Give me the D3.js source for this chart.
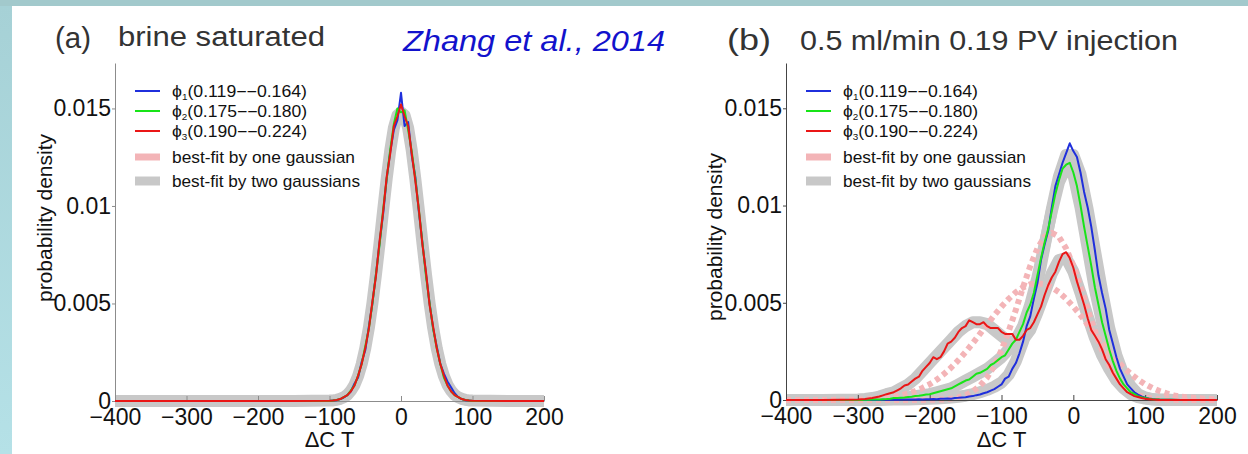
<!DOCTYPE html>
<html>
<head>
<meta charset="utf-8">
<script src="https://cdn.jsdelivr.net/npm/d3@7"></script>
<style>
body{margin:0;background:#fff;}
svg{display:block;font-family:'Liberation Sans',Arial,sans-serif;}
</style>
</head>
<body>
<div class="figure"></div>
<script>
// ---- panel (a): brine saturated ----
const dctA = [-400,-300,-200,-150,
  -100,-95,-90,-85,-80,-75,-70,-65,-60,-55,
  -50,-45,-40,-35,-30,-25,-20,-15,-10,-5,
  0,
  5,10,15,20,25,30,35,40,45,50,
  55,60,65,70,75,80,85,90,95,100,
  150,200];
const blueA = [0,0,0,0,
  0,0.00002,0.00004,0.0001,0.00018,0.0003,0.0005,0.0009,0.0012,0.002,
  0.0026,0.0038,0.005,0.0065,0.0081,0.0096,0.0114,0.0128,0.0139,0.0144,
  0.0158,
  0.0141,0.0143,0.0126,0.0115,0.0097,0.0081,0.0065,0.005,0.0037,0.0028,
  0.0019,0.0014,0.001,0.0007,0.0004,0.0002,0.0001,0.00004,0.00002,0,
  0,0];
const greenA = [0,0,0,0,
  0,0.00002,0.00005,0.0001,0.0002,0.0003,0.00055,0.0008,0.0013,0.0019,
  0.0028,0.0037,0.005,0.0065,0.008,0.0098,0.0114,0.0129,0.0142,0.015,
  0.0148,
  0.0149,0.0139,0.0128,0.0114,0.0098,0.0081,0.0064,0.005,0.0037,0.0027,
  0.0019,0.0012,0.0008,0.0005,0.0003,0.0002,0.0001,0.00005,0.00002,0,
  0,0];
const redA = [0,0,0,0,
  0.00001,0.00002,0.00005,0.0001,0.0002,0.0003,0.0005,0.0008,0.0013,0.0019,
  0.0027,0.0037,0.0051,0.0064,0.0082,0.0097,0.0115,0.0127,0.0141,0.0146,
  0.0152,
  0.0146,0.0141,0.0127,0.0113,0.0098,0.008,0.0066,0.0049,0.0038,0.0027,
  0.0019,0.0013,0.0008,0.0005,0.0003,0.0002,0.0001,0.00005,0.00002,0.00001,
  0,0];
const oneGaussA = [0,0,0,0,
  0.00002,0.00003,0.00006,0.00011,0.00019,0.00032,0.00053,0.00083,0.00128,0.00189,
  0.0027,0.00372,0.00498,0.00644,0.00803,0.0097,0.0113,0.01276,0.0139,0.01462,
  0.0147,
  0.01462,0.0139,0.01276,0.0113,0.0097,0.00803,0.00644,0.00498,0.00372,0.0027,
  0.00189,0.00128,0.00083,0.00053,0.00032,0.00019,0.00011,0.00006,0.00003,0.00002,
  0,0];
const twoGaussA = [0,0,0,0,
  0.00002,0.00003,0.00006,0.00011,0.00019,0.00032,0.00053,0.00083,0.00128,0.00189,
  0.0027,0.00374,0.00501,0.00648,0.00809,0.00977,0.0114,0.01286,0.014,0.01465,
  0.0148,
  0.01465,0.014,0.01286,0.0114,0.00977,0.00809,0.00648,0.00501,0.00374,0.0027,
  0.00189,0.00128,0.00083,0.00053,0.00032,0.00019,0.00011,0.00006,0.00003,0.00002,
  0,0];

// ---- panel (b): 0.5 ml/min 0.19 PV injection ----
const dctB = [-400,-350,
  -300,-295,-290,-285,-280,-275,-270,-265,-260,-255,
  -250,-245,-240,-235,-230,-225,-220,-215,-210,-205,
  -200,-195,-190,-185,-180,-175,-170,-165,-160,-155,
  -150,-145,-140,-135,-130,-125,-120,-115,-110,-105,
  -100,-95,-90,-85,-80,-75,-70,-65,-60,-55,
  -50,-45,-40,-35,-30,-25,-20,-15,-10,-5,
  0,5,10,15,20,25,30,35,40,45,
  50,55,60,65,70,75,80,85,90,95,
  100,105,110,115,120,
  150,200];
const blueB = [0,0,
  0,0,0,0,0,0.00001,0,0.00001,0.00001,0.00001,
  0.00002,0.00001,0.00002,0.00002,0.00003,0.00002,0.00003,0.00004,0.00003,0.00004,
  0.00004,0.00005,0.00004,0.00006,0.00006,0.00008,0.00007,0.0001,0.00011,0.00013,
  0.00014,0.00018,0.0002,0.00025,0.00028,0.00035,0.0004,0.00048,0.00056,0.00068,
  0.0008,0.0011,0.0012,0.0016,0.0019,0.0024,0.003,0.0038,0.0043,0.0052,
  0.006,0.0072,0.008,0.0087,0.0099,0.011,0.0116,0.0122,0.0127,0.0132,
  0.0128,0.0125,0.0117,0.0107,0.0099,0.0089,0.0077,0.0064,0.0055,0.0047,
  0.0036,0.0029,0.0022,0.0016,0.0012,0.0008,0.0006,0.0004,0.00028,0.00018,
  0.00012,0.00008,0.00005,0.00003,0.00002,
  0,0];
const greenB = [0,0,
  0,0,0.00001,0.00001,0.00002,0.00002,0.00003,0.00004,0.00005,0.00007,
  0.0001,0.0001,0.00012,0.00013,0.00015,0.00017,0.0002,0.00022,0.00025,0.00028,
  0.0003,0.00035,0.0004,0.00045,0.0005,0.00055,0.0006,0.0007,0.0008,0.0009,
  0.001,0.00105,0.0012,0.00135,0.0014,0.0015,0.0016,0.0018,0.0019,0.00205,
  0.0022,0.0023,0.0026,0.0029,0.0031,0.0035,0.0039,0.0045,0.0049,0.0055,
  0.0064,0.0073,0.0081,0.0088,0.0097,0.0106,0.0113,0.0119,0.0121,0.0122,
  0.0117,0.011,0.01,0.0089,0.0079,0.0069,0.0058,0.0049,0.004,0.0033,
  0.0026,0.002,0.0015,0.0011,0.0008,0.0006,0.0004,0.0003,0.0002,0.00014,
  0.0001,0.00007,0.00004,0.00003,0.00002,
  0,0];
const redB = [0,0,
  0.00003,0.00004,0.00005,0.00008,0.0001,0.00014,0.00018,0.00024,0.0003,0.00035,
  0.0004,0.0005,0.0006,0.00075,0.0008,0.00095,0.0011,0.0012,0.0015,0.0017,
  0.0019,0.0022,0.0021,0.0022,0.0025,0.0029,0.003,0.0032,0.0035,0.0037,
  0.0038,0.0041,0.004,0.0039,0.0039,0.004,0.0038,0.0037,0.0037,0.0037,
  0.0035,0.0034,0.0034,0.0034,0.0031,0.0031,0.0033,0.0036,0.0037,0.004,
  0.0044,0.0048,0.0054,0.0059,0.0063,0.0066,0.0071,0.0075,0.0076,0.0073,
  0.0068,0.0061,0.0055,0.0049,0.0042,0.0036,0.0033,0.003,0.0026,0.0021,
  0.0018,0.0014,0.0011,0.0008,0.0006,0.0004,0.0003,0.0002,0.00015,0.0001,
  0.00006,0.00004,0.00002,0.00001,0,
  0,0];

// fitted curves, panel (b), coarser grid
const dctBfit = [-400,-350,-300,
  -290,-280,-270,-260,-250,-240,-230,-220,-210,-200,
  -190,-180,-170,-160,-150,-140,-130,-120,-110,-100,
  -90,-80,-70,-60,-50,-40,-30,-20,-10,0,
  10,20,30,40,50,60,70,80,90,100,
  110,120,130,140,150,200];
const twoGaussBlueB = [0,0,0,
  0,0,0,0.00001,0.00002,0.00002,0.00003,0.00004,0.00005,0.00006,
  0.00008,0.0001,0.00013,0.00017,0.00022,0.0003,0.0004,0.00052,0.00068,0.0009,
  0.0013,0.002,0.003,0.0044,0.006,0.0079,0.0098,0.0115,0.0126,0.0126,
  0.0116,0.0098,0.0077,0.0056,0.0037,0.0023,0.0013,0.0007,0.0003,0.00013,
  0.00005,0.00002,0.00001,0,0,0];
const twoGaussGreenB = [0,0,0,
  0.00001,0.00002,0.00003,0.00005,0.00008,0.00011,0.00015,0.0002,0.00025,0.0003,
  0.0004,0.0005,0.0006,0.0008,0.001,0.0012,0.0014,0.0016,0.0019,0.0022,
  0.0026,0.0031,0.0038,0.0049,0.0063,0.008,0.0097,0.0112,0.012,0.0116,
  0.0099,0.0078,0.0057,0.004,0.0026,0.0015,0.0008,0.0004,0.0002,0.0001,
  0.00004,0.00002,0.00001,0,0,0];
const twoGaussRedB = [0,0,0.00003,
  0.00005,0.0001,0.00018,0.0003,0.0004,0.0006,0.0008,0.0011,0.0015,0.0019,
  0.0023,0.0027,0.0031,0.0035,0.0038,0.004,0.004,0.0039,0.0036,0.0033,
  0.003,0.0029,0.0031,0.0036,0.0045,0.0055,0.0065,0.0072,0.0073,0.0066,
  0.0055,0.0043,0.0032,0.0023,0.0016,0.001,0.0006,0.0003,0.00015,0.00007,
  0.00003,0.00001,0,0,0,0];
const oneGaussRedB = [0,0,0.00002,
  0.00003,0.00005,0.00008,0.00012,0.00017,0.00024,0.00034,0.00046,0.00062,0.00081,
  0.00105,0.00134,0.00167,0.00205,0.00247,0.00292,0.0034,0.00388,0.00436,0.0048,
  0.0052,0.00554,0.00579,0.00595,0.006,0.00595,0.00579,0.00554,0.0052,0.0048,
  0.00436,0.00388,0.0034,0.00292,0.00247,0.00205,0.00167,0.00134,0.00105,0.00081,
  0.00062,0.00046,0.00034,0.00024,0.00017,0.00002];
const oneGaussGreenB = [0,0,0,
  0,0,0,0,0,0,0,0,0,0.00001,
  0.00002,0.00003,0.00007,0.00013,0.00025,0.00044,0.00073,0.00116,0.00177,0.00256,
  0.00354,0.00464,0.0058,0.00689,0.00779,0.00839,0.0086,0.00839,0.00779,0.00689,
  0.0058,0.00464,0.00354,0.00256,0.00177,0.00116,0.00073,0.00044,0.00025,0.00013,
  0.00007,0.00003,0.00002,0.00001,0,0];

const xTicks = [-400,-300,-200,-100,0,100,200];
const yTicks = [0,0.005,0.01,0.015];
const legendLabels = [['1','(0.119−−0.164)'],['2','(0.175−−0.180)'],['3','(0.190−−0.224)']];
const fitLabels = ['best-fit by one gaussian','best-fit by two gaussians'];

const BLUE = '#1f2fdc', GREEN = '#18e418', RED = '#ea1616';
const PINK = '#f3b4b7', GRAY = '#c8c8c8';

const width = 1248;
const height = 454;

const svg = d3.select('.figure').append('svg')
  .attr('width', width)
  .attr('height', height);

// slide backdrop
svg.append('rect').attr('width', width).attr('height', height).attr('fill', '#a2c9cc');
const grad = svg.append('defs').append('linearGradient')
  .attr('id', 'side').attr('x1', 0).attr('y1', 0).attr('x2', 0).attr('y2', 1);
grad.append('stop').attr('offset', '0%').attr('stop-color', '#a6d1d6');
grad.append('stop').attr('offset', '100%').attr('stop-color', '#b5e1e7');
svg.append('rect').attr('x', 0).attr('y', 6).attr('width', 12).attr('height', height-6).attr('fill', 'url(#side)');
svg.append('rect').attr('x', 12).attr('y', 6).attr('width', width-12).attr('height', height-6).attr('fill', '#fff');

function drawPanel(p){
  const x = d3.scaleLinear().domain([-400, 200]).range([p.left, p.right]);
  const y = d3.scaleLinear().domain([0, 0.01733]).range([p.bottom, 63]);
  const g = svg.append('g');
  const path = (xs, vals) => d3.line().x((d,i)=>x(xs[i])).y(d=>y(d))(vals);

  const drawFit = f => {
    const el = g.append('path')
      .attr('d', path(f.xs, f.vals))
      .attr('fill', 'none')
      .attr('stroke-linejoin', 'round');
    if (f.kind === 'two') {
      el.attr('stroke', GRAY).attr('stroke-width', 12);
    } else {
      el.attr('stroke', PINK).attr('stroke-width', 6).attr('stroke-dasharray', '5,4');
    }
  };
  p.fits.forEach(drawFit);

  // axes
  const xAxis = g.append('g')
    .attr('transform', `translate(0,${p.bottom})`)
    .call(d3.axisBottom(x).tickValues(xTicks).tickSize(-5).tickSizeOuter(0).tickPadding(8)
      .tickFormat(d=>d<0 ? '−'+(-d) : d));
  const yAxis = g.append('g')
    .attr('transform', `translate(${p.left},0)`)
    .call(d3.axisLeft(y).tickValues(yTicks).tickSize(3).tickSizeOuter(0).tickPadding(1)
      .tickFormat(d=>String(d)));
  [xAxis, yAxis].forEach(a=>{
    a.selectAll('path,line').attr('stroke', p.axisColor);
    a.selectAll('text').attr('font-size', 23).attr('fill', '#111')
      .attr('font-family', "'Liberation Sans',Arial,sans-serif");
  });
  xAxis.attr('font-size', null);
  yAxis.attr('font-size', null);

  p.lines.forEach(l=>{
    g.append('path')
      .attr('d', path(l.xs, l.vals))
      .attr('fill', 'none')
      .attr('stroke', l.color)
      .attr('stroke-width', 2)
      .attr('stroke-linejoin', 'round');
  });

  // axis labels
  g.append('text')
    .attr('x', (p.left+p.right)/2)
    .attr('y', 447)
    .attr('text-anchor', 'middle')
    .attr('font-size', 22)
    .attr('fill', '#111')
    .text('ΔC T');
  g.append('text')
    .attr('transform', `translate(${p.ylabX},${p.ylabY}) rotate(-90)`)
    .attr('text-anchor', 'middle')
    .attr('font-size', 21)
    .attr('fill', '#111')
    .text('probability density');

  // legend
  const lx = p.left + 20;
  const rows = [91, 111, 131, 157, 181];
  [BLUE, GREEN, RED].forEach((c,i)=>{
    g.append('line')
      .attr('x1', lx).attr('x2', lx+25)
      .attr('y1', rows[i]).attr('y2', rows[i])
      .attr('stroke', c).attr('stroke-width', 2);
    const t = g.append('text')
      .attr('x', lx+37)
      .attr('y', rows[i]+6)
      .attr('font-size', 16)
      .attr('fill', '#111')
      .attr('textLength', 135)
      .attr('lengthAdjust', 'spacingAndGlyphs');
    t.append('tspan').text('ϕ');
    t.append('tspan').attr('font-size', 9).attr('dy', 3).text(legendLabels[i][0]);
    t.append('tspan').attr('dy', -3).text(legendLabels[i][1]);
  });
  [[PINK, 7], [GRAY, 9]].forEach((s,i)=>{
    g.append('line')
      .attr('x1', lx).attr('x2', lx+25)
      .attr('y1', rows[3+i]).attr('y2', rows[3+i])
      .attr('stroke', s[0]).attr('stroke-width', s[1]);
    g.append('text')
      .attr('x', lx+37)
      .attr('y', rows[3+i]+6)
      .attr('font-size', 17)
      .attr('fill', '#111')
      .attr('textLength', i===0 ? 183 : 188)
      .attr('lengthAdjust', 'spacingAndGlyphs')
      .text(fitLabels[i]);
  });
}

drawPanel({
  left: 115, right: 544, bottom: 401, axisColor: '#8c8c8c',
  ylabX: 52, ylabY: 218,
  fits: [
    {kind: 'one', xs: dctA, vals: oneGaussA},
    {kind: 'two', xs: dctA, vals: twoGaussA}
  ],
  lines: [
    {xs: dctA, vals: blueA, color: BLUE},
    {xs: dctA, vals: greenA, color: GREEN},
    {xs: dctA, vals: redA, color: RED}
  ]
});

drawPanel({
  left: 786, right: 1217, bottom: 400, axisColor: '#444',
  ylabX: 722, ylabY: 237,
  fits: [
    {kind: 'two', xs: dctBfit, vals: twoGaussBlueB},
    {kind: 'two', xs: dctBfit, vals: twoGaussGreenB},
    {kind: 'two', xs: dctBfit, vals: twoGaussRedB},
    {kind: 'one', xs: dctBfit, vals: oneGaussRedB},
    {kind: 'one', xs: dctBfit, vals: oneGaussGreenB}
  ],
  lines: [
    {xs: dctB, vals: blueB, color: BLUE},
    {xs: dctB, vals: greenB, color: GREEN},
    {xs: dctB, vals: redB, color: RED}
  ]
});

// titles
const titles = [
  {x: 55, y: 48, size: 30, text: '(a)', len: 36},
  {x: 118, y: 46, size: 27, text: 'brine saturated', len: 207},
  {x: 727, y: 50, size: 30, text: '(b)', len: 44},
  {x: 800, y: 50, size: 27, text: '0.5 ml/min 0.19 PV injection', len: 378}
];
svg.selectAll('.title')
  .data(titles)
  .enter()
  .append('text')
  .attr('class', 'title')
  .attr('x', d=>d.x)
  .attr('y', d=>d.y)
  .attr('font-size', d=>d.size)
  .attr('fill', '#333')
  .attr('textLength', d=>d.len)
  .attr('lengthAdjust', 'spacingAndGlyphs')
  .text(d=>d.text);

svg.append('text')
  .attr('x', 403)
  .attr('y', 51)
  .attr('font-size', 29)
  .attr('font-style', 'italic')
  .attr('fill', '#1212cc')
  .attr('textLength', 262)
  .attr('lengthAdjust', 'spacingAndGlyphs')
  .text('Zhang et al., 2014');
</script>
</body>
</html>
